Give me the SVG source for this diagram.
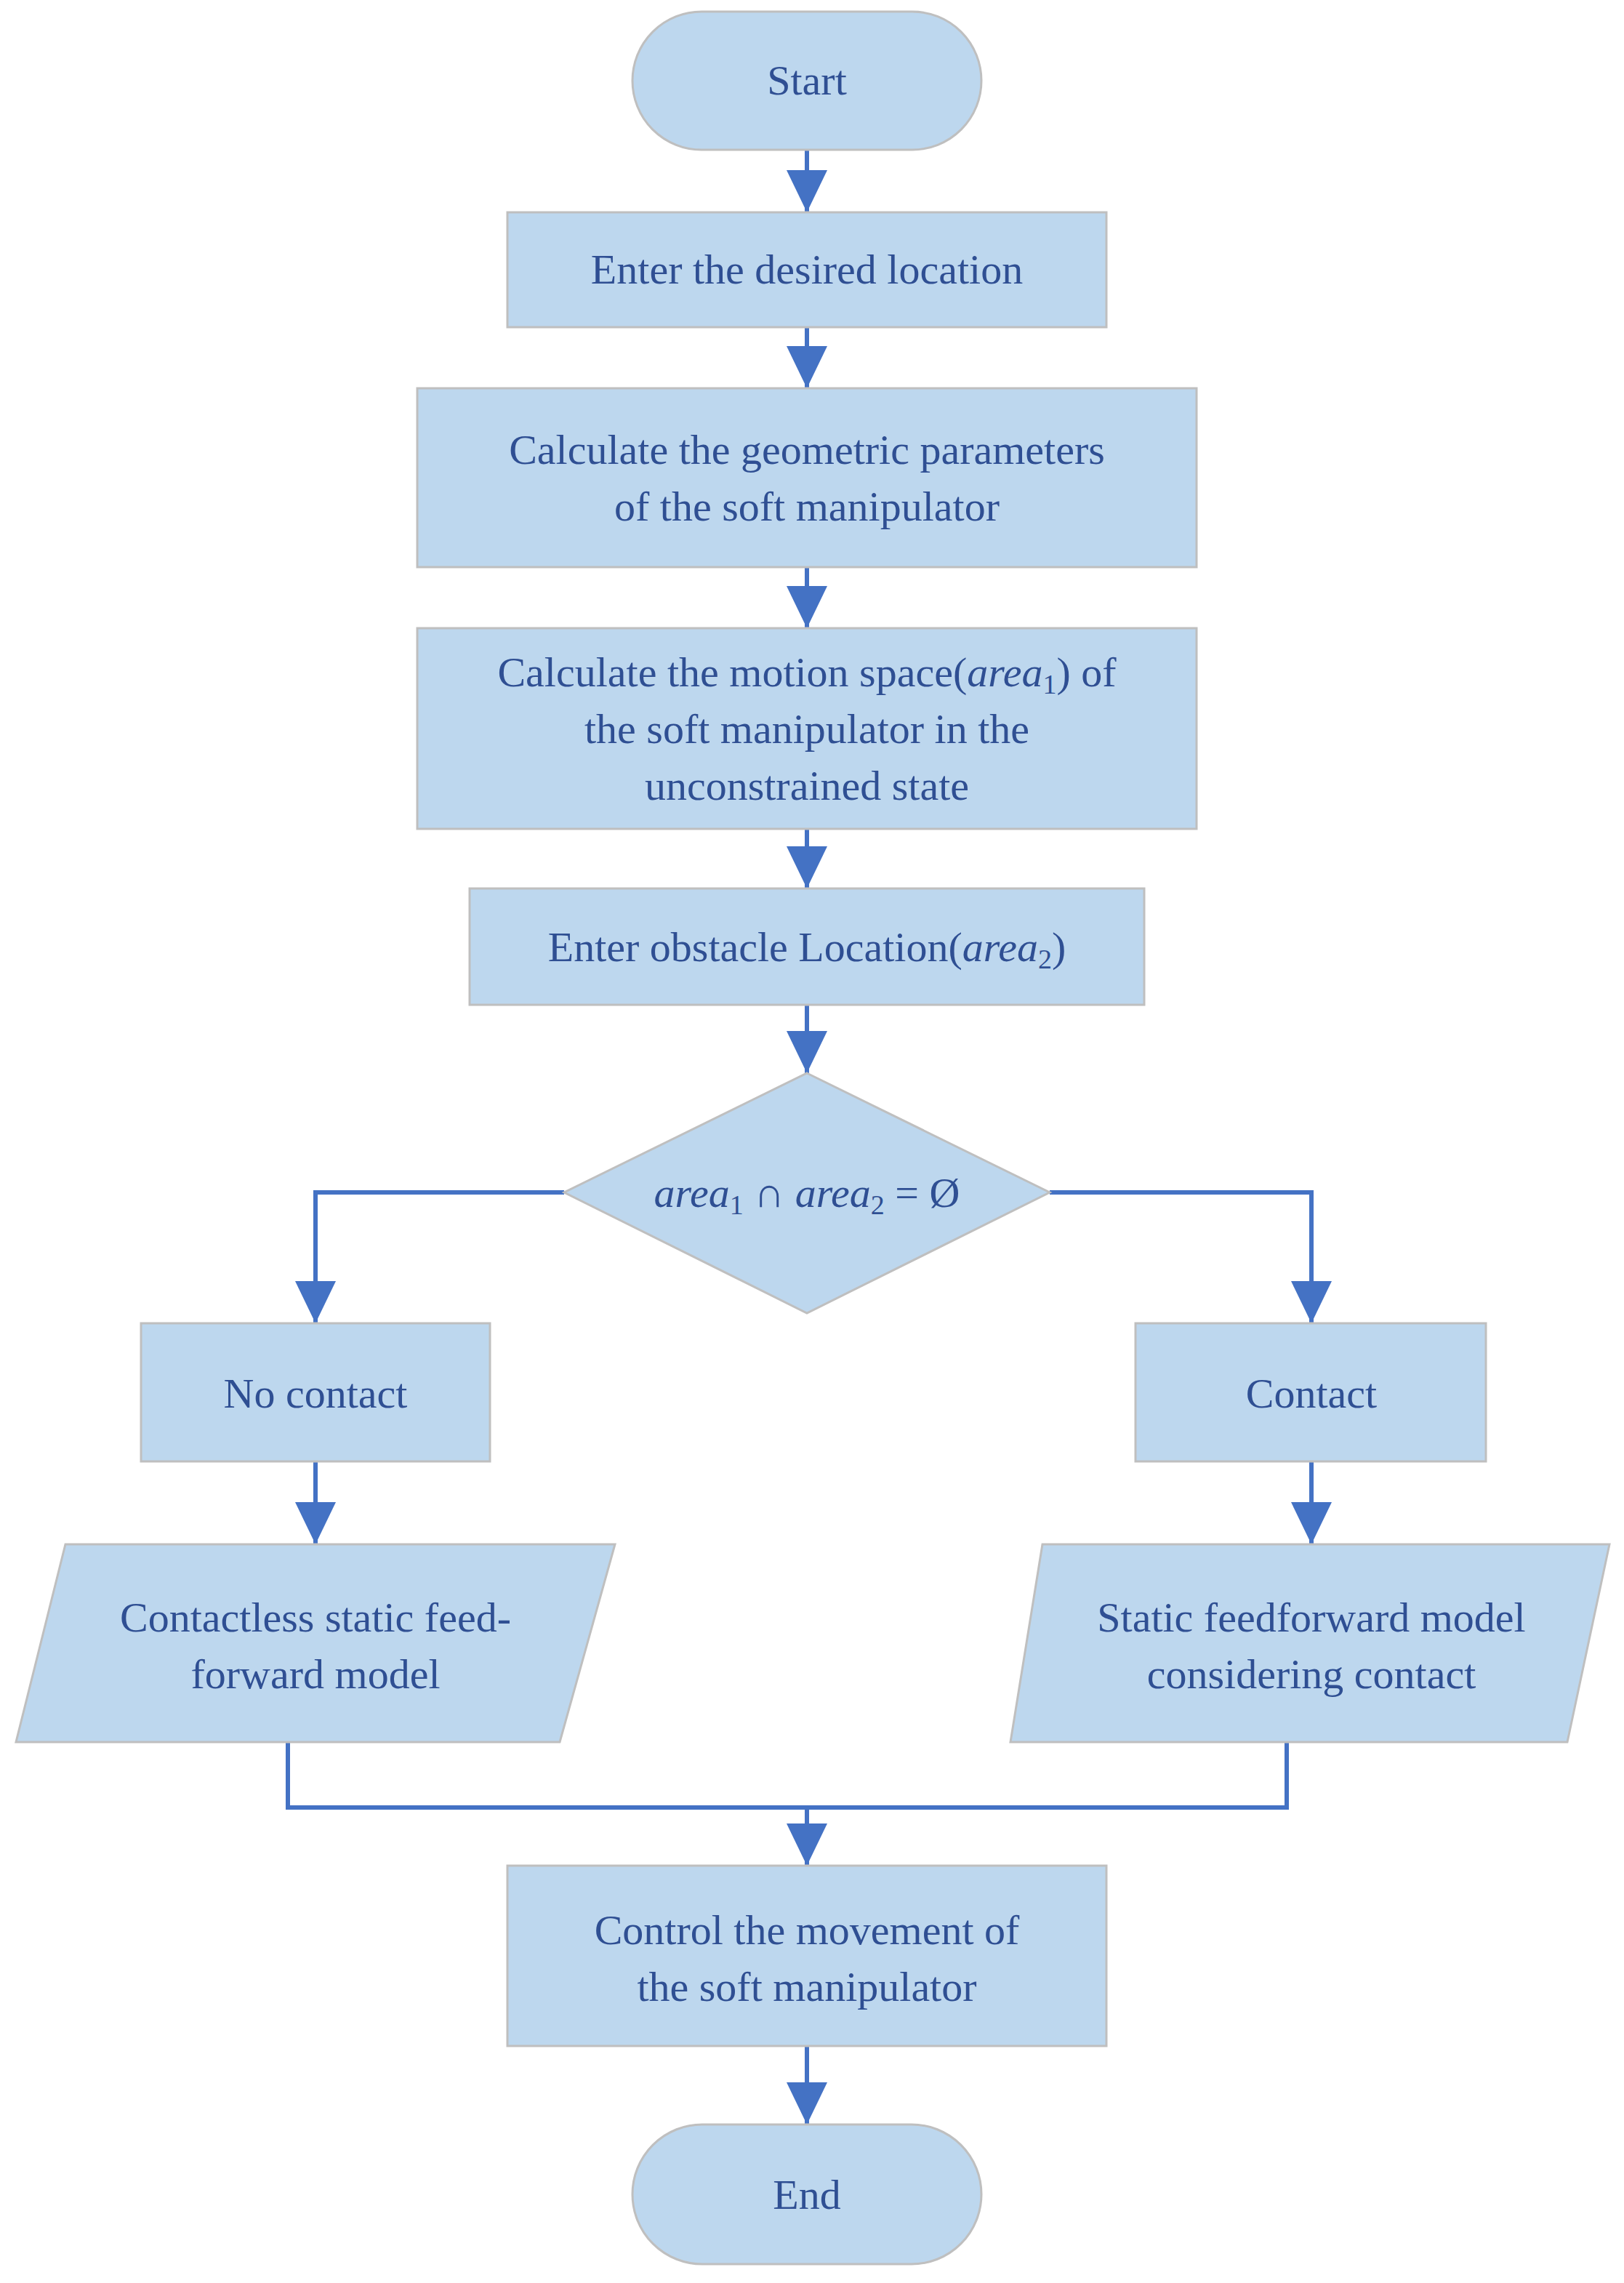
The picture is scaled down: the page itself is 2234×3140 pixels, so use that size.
<svg xmlns="http://www.w3.org/2000/svg" width="2234" height="3140" viewBox="0 0 2234 3140">
<defs>
<style>
.n{fill:#BDD7EE;stroke:#BFBFBF;stroke-width:3}
.t{font-family:"Liberation Serif","Times New Roman",serif;font-size:58px;fill:#2F4F93;text-anchor:middle}
.c{fill:none;stroke:#4472C4;stroke-width:6}
</style>
<marker id="a" markerUnits="userSpaceOnUse" markerWidth="60" markerHeight="60" viewBox="0 0 60 60" refX="58" refY="30" orient="auto">
<path d="M0,2 L58,30 L0,58 Z" fill="#4472C4"/>
</marker>
</defs>
<rect width="2234" height="3140" fill="#fff"/>
<g id="connectors">
<path class="c" marker-end="url(#a)" d="M1110,206 V292"/>
<path class="c" marker-end="url(#a)" d="M1110,450 V534"/>
<path class="c" marker-end="url(#a)" d="M1110,780 V864"/>
<path class="c" marker-end="url(#a)" d="M1110,1140 V1222"/>
<path class="c" marker-end="url(#a)" d="M1110,1382 V1476"/>
<path class="c" marker-end="url(#a)" d="M776,1640 H434 V1820"/>
<path class="c" marker-end="url(#a)" d="M1444,1640 H1804 V1820"/>
<path class="c" marker-end="url(#a)" d="M434,2010 V2124"/>
<path class="c" marker-end="url(#a)" d="M1804,2010 V2124"/>
<path class="c" d="M396,2396 V2486 H1770 V2396"/>
<path class="c" marker-end="url(#a)" d="M1110,2486 V2566"/>
<path class="c" marker-end="url(#a)" d="M1110,2814 V2922"/>
</g>
<g id="start"><rect class="n" x="870" y="16" width="480" height="190" rx="95"/><text class="t" x="1110" y="130">Start</text></g>
<g id="enter"><rect class="n" x="698" y="292" width="824" height="158"/><text class="t" x="1110" y="390">Enter the desired location</text></g>
<g id="geom"><rect class="n" x="574" y="534" width="1072" height="246"/><text class="t" x="1110" y="638">Calculate the geometric parameters</text><text class="t" x="1110" y="716">of the soft manipulator</text></g>
<g id="motion"><rect class="n" x="574" y="864" width="1072" height="276"/><text class="t" x="1110" y="944">Calculate the motion space(<tspan font-style="italic">area</tspan><tspan font-size="38" dy="10">1</tspan><tspan dy="-10">) of</tspan></text><text class="t" x="1110" y="1022">the soft manipulator in the</text><text class="t" x="1110" y="1100">unconstrained state</text></g>
<g id="obstacle"><rect class="n" x="646" y="1222" width="928" height="160"/><text class="t" x="1110" y="1322">Enter obstacle Location(<tspan font-style="italic">area</tspan><tspan font-size="38" dy="10">2</tspan><tspan dy="-10">)</tspan></text></g>
<g id="decision"><polygon class="n" points="1110,1476 1444,1640 1110,1806 776,1640"/><text class="t" x="1110" y="1660"><tspan font-style="italic">area</tspan><tspan font-size="38" dy="10">1</tspan><tspan dy="-10"> ∩ </tspan><tspan font-style="italic">area</tspan><tspan font-size="38" dy="10">2</tspan><tspan dy="-10"> = Ø</tspan></text></g>
<g id="nocontact"><rect class="n" x="194" y="1820" width="480" height="190"/><text class="t" x="434" y="1936">No contact</text></g>
<g id="contact"><rect class="n" x="1562" y="1820" width="482" height="190"/><text class="t" x="1804" y="1936">Contact</text></g>
<g id="contactless"><polygon class="n" points="90,2124 846,2124 770,2396 22,2396"/><text class="t" x="434" y="2244">Contactless static feed-</text><text class="t" x="434" y="2322">forward model</text></g>
<g id="static"><polygon class="n" points="1434,2124 2214,2124 2156,2396 1390,2396"/><text class="t" x="1804" y="2244">Static feedforward model</text><text class="t" x="1804" y="2322">considering contact</text></g>
<g id="control"><rect class="n" x="698" y="2566" width="824" height="248"/><text class="t" x="1110" y="2674">Control the movement of</text><text class="t" x="1110" y="2752">the soft manipulator</text></g>
<g id="end"><rect class="n" x="870" y="2922" width="480" height="192" rx="96"/><text class="t" x="1110" y="3038">End</text></g>
</svg>
